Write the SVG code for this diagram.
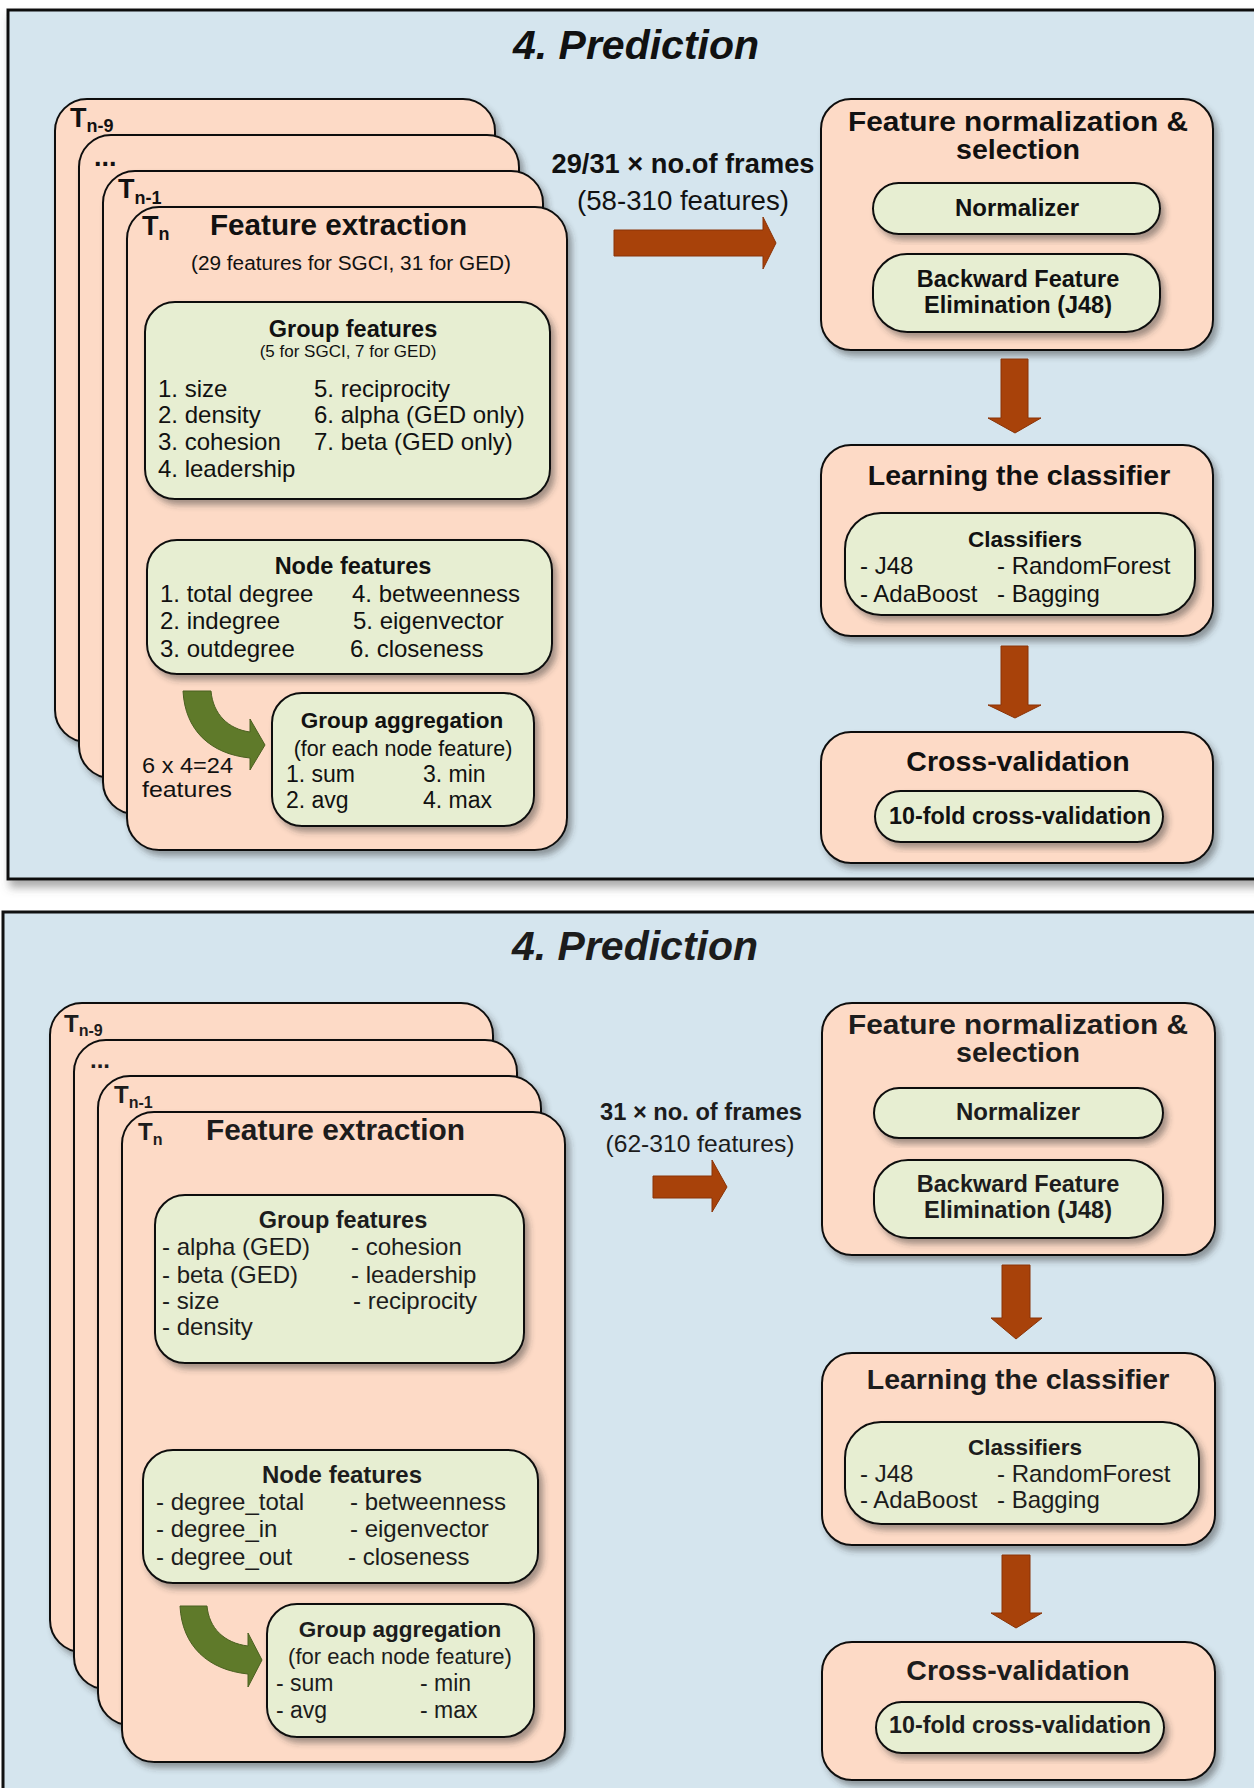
<svg xmlns="http://www.w3.org/2000/svg" width="1254" height="1788" viewBox="0 0 1254 1788">
<defs>
<filter id="sh" x="-10%" y="-10%" width="130%" height="130%">
<feDropShadow dx="4" dy="5" stdDeviation="3" flood-color="#333" flood-opacity="0.45"/>
</filter>
<filter id="psh" x="-5%" y="-5%" width="110%" height="110%">
<feDropShadow dx="3" dy="7" stdDeviation="4" flood-color="#555" flood-opacity="0.5"/>
</filter>
<style>
.panel{fill:#d5e5ee;stroke:#111;stroke-width:3}
.card{fill:#fddac6;stroke:#111;stroke-width:2}
.gbox{fill:#e7eed2;stroke:#111;stroke-width:2}
.arr{fill:#a8420a;stroke:#8a3306;stroke-width:1}
.garr{fill:#5f7a2a;stroke:#4a6020;stroke-width:1}
text{font-family:"Liberation Sans",Arial,sans-serif;fill:#111}
.b{font-weight:bold}
.c{text-anchor:middle}
.title{font-weight:bold;font-style:italic;font-size:41px;text-anchor:middle}
.it{font-size:24px}
.bt{fill:#1c1c1c}
</style>
</defs>
<rect width="1254" height="1788" fill="#ffffff"/>

<!-- ================= TOP PANEL ================= -->
<g id="panel-top">
<rect class="panel" x="8" y="10" width="1262" height="869" filter="url(#psh)"/>
<text class="title" x="636" y="59">4. Prediction</text>
</g>

<g id="card-tn9-top"><rect class="card" x="55" y="99" width="440" height="643" rx="32" filter="url(#sh)"/>
<text class="b" x="70" y="127" font-size="27">T<tspan font-size="18" dy="5">n-9</tspan></text></g>
<g id="card-dots-top"><rect class="card" x="79" y="135" width="440" height="643" rx="32" filter="url(#sh)"/>
<text class="b" x="94" y="166" font-size="27">...</text></g>
<g id="card-tn1-top"><rect class="card" x="103" y="171" width="440" height="643" rx="32" filter="url(#sh)"/>
<text class="b" x="118" y="198" font-size="27">T<tspan font-size="18" dy="6">n-1</tspan></text></g>
<g id="card-tn-top"><rect class="card" x="127" y="207" width="440" height="643" rx="32" filter="url(#sh)"/>
<text class="b" x="142" y="235" font-size="27">T<tspan font-size="18" dy="5">n</tspan></text>
<text class="b" x="210" y="235" font-size="29" textLength="257" lengthAdjust="spacingAndGlyphs">Feature extraction</text>
<text x="191" y="270" font-size="20" textLength="320" lengthAdjust="spacingAndGlyphs">(29 features for SGCI, 31 for GED)</text>
<text x="142" y="773" font-size="22" textLength="91" lengthAdjust="spacingAndGlyphs">6 x 4=24</text>
<text x="142" y="797" font-size="22" textLength="90" lengthAdjust="spacingAndGlyphs">features</text>
</g>

<g id="group-features-top">
<rect class="gbox" x="145" y="302" width="405" height="197" rx="30" filter="url(#sh)"/>
<text class="b c" x="353" y="337" font-size="23.5">Group features</text>
<text class="c" x="348" y="357" font-size="17">(5 for SGCI, 7 for GED)</text>
<text class="it" x="158" y="397">1. size</text>
<text class="it" x="158" y="423">2. density</text>
<text class="it" x="158" y="450">3. cohesion</text>
<text class="it" x="158" y="477">4. leadership</text>
<text class="it" x="314" y="397">5. reciprocity</text>
<text class="it" x="314" y="423">6. alpha (GED only)</text>
<text class="it" x="314" y="450">7. beta (GED only)</text>
</g>

<g id="node-features-top">
<rect class="gbox" x="147" y="540" width="405" height="134" rx="30" filter="url(#sh)"/>
<text class="b c" x="353" y="574" font-size="23.5">Node features</text>
<text class="it" x="160" y="602">1. total degree</text>
<text class="it" x="160" y="629">2. indegree</text>
<text class="it" x="160" y="657">3. outdegree</text>
<text class="it" x="352" y="602">4. betweenness</text>
<text class="it" x="353" y="629">5. eigenvector</text>
<text class="it" x="350" y="657">6. closeness</text>
</g>

<g id="group-aggregation-top">
<rect class="gbox" x="272" y="693" width="262" height="133" rx="30" filter="url(#sh)"/>
<text class="b c" x="402" y="728" font-size="22.5">Group aggregation</text>
<text class="c" x="403" y="756" font-size="21.5">(for each node feature)</text>
<text x="286" y="782" font-size="23">1. sum</text>
<text x="423" y="782" font-size="23">3. min</text>
<text x="286" y="808" font-size="23">2. avg</text>
<text x="423" y="808" font-size="23">4. max</text>
</g>

<g id="frames-label-top">
<text class="b c" x="683" y="173" font-size="27" textLength="263" lengthAdjust="spacingAndGlyphs">29/31 × no.of frames</text>
<text class="c" x="683" y="210" font-size="27" textLength="212" lengthAdjust="spacingAndGlyphs">(58-310 features)</text>
</g>

<g id="normalization-top">
<rect class="card" x="821" y="99" width="392" height="251" rx="30" filter="url(#sh)"/>
<text class="b c" x="1018" y="131" font-size="27" textLength="340" lengthAdjust="spacingAndGlyphs">Feature normalization &amp;</text>
<text class="b c" x="1018" y="159" font-size="27" textLength="124" lengthAdjust="spacingAndGlyphs">selection</text>
<rect class="gbox" x="873" y="183" width="287" height="51" rx="25.5" filter="url(#sh)"/>
<text class="b c" x="1017" y="216" font-size="24">Normalizer</text>
<rect class="gbox" x="873" y="254" width="287" height="78" rx="34" filter="url(#sh)"/>
<text class="b c" x="1018" y="287" font-size="23.5">Backward Feature</text>
<text class="b c" x="1018" y="313" font-size="23.5">Elimination (J48)</text>
</g>

<g id="learning-top">
<rect class="card" x="821" y="445" width="392" height="191" rx="30" filter="url(#sh)"/>
<text class="b c" x="1019" y="485" font-size="28.5">Learning the classifier</text>
<rect class="gbox" x="845" y="513" width="350" height="102" rx="36" filter="url(#sh)"/>
<text class="b c" x="1025" y="547" font-size="22.5">Classifiers</text>
<text class="it" x="860" y="574">- J48</text>
<text class="it" x="997" y="574">- RandomForest</text>
<text class="it" x="860" y="602">- AdaBoost</text>
<text class="it" x="997" y="602">- Bagging</text>
</g>

<g id="crossval-top">
<rect class="card" x="821" y="732" width="392" height="131" rx="30" filter="url(#sh)"/>
<text class="b c" x="1018" y="771" font-size="28.5">Cross-validation</text>
<rect class="gbox" x="875" y="791" width="288" height="51" rx="25.5" filter="url(#sh)"/>
<text class="b c" x="1020" y="824" font-size="23" textLength="262" lengthAdjust="spacingAndGlyphs">10-fold cross-validation</text>
</g>

<!-- ================= BOTTOM PANEL ================= -->
<g id="panel-bottom">
<rect class="panel" x="3" y="912" width="1270" height="900"/>
<text class="title bt" x="635" y="960">4. Prediction</text>
</g>

<g id="card-tn9-bottom"><rect class="card" x="50" y="1003" width="443" height="649" rx="32" filter="url(#sh)"/>
<text class="b bt" x="64" y="1032" font-size="24">T<tspan font-size="16" dy="4">n-9</tspan></text></g>
<g id="card-dots-bottom"><rect class="card" x="74" y="1040" width="443" height="649" rx="32" filter="url(#sh)"/>
<text class="b bt" x="90" y="1068" font-size="24">...</text></g>
<g id="card-tn1-bottom"><rect class="card" x="98" y="1076" width="443" height="649" rx="32" filter="url(#sh)"/>
<text class="b bt" x="114" y="1103" font-size="24">T<tspan font-size="16" dy="5">n-1</tspan></text></g>
<g id="card-tn-bottom"><rect class="card" x="122" y="1112" width="443" height="650" rx="32" filter="url(#sh)"/>
<text class="b bt" x="138" y="1140" font-size="24">T<tspan font-size="16" dy="5">n</tspan></text>
<text class="b bt" x="206" y="1140" font-size="29" textLength="259" lengthAdjust="spacingAndGlyphs">Feature extraction</text>
</g>

<g id="group-features-bottom">
<rect class="gbox" x="155" y="1195" width="369" height="168" rx="30" filter="url(#sh)"/>
<text class="b c bt" x="343" y="1228" font-size="23.5">Group features</text>
<text class="it bt" x="162" y="1255">- alpha (GED)</text>
<text class="it bt" x="162" y="1283">- beta (GED)</text>
<text class="it bt" x="162" y="1309">- size</text>
<text class="it bt" x="162" y="1335">- density</text>
<text class="it bt" x="351" y="1255">- cohesion</text>
<text class="it bt" x="351" y="1283">- leadership</text>
<text class="it bt" x="353" y="1309">- reciprocity</text>
</g>

<g id="node-features-bottom">
<rect class="gbox" x="143" y="1450" width="395" height="133" rx="30" filter="url(#sh)"/>
<text class="b c bt" x="342" y="1483" font-size="24">Node features</text>
<text class="it bt" x="156" y="1510">- degree_total</text>
<text class="it bt" x="156" y="1537">- degree_in</text>
<text class="it bt" x="156" y="1565">- degree_out</text>
<text class="it bt" x="350" y="1510">- betweenness</text>
<text class="it bt" x="350" y="1537">- eigenvector</text>
<text class="it bt" x="348" y="1565">- closeness</text>
</g>

<g id="group-aggregation-bottom">
<rect class="gbox" x="267" y="1604" width="267" height="133" rx="30" filter="url(#sh)"/>
<text class="b c bt" x="400" y="1637" font-size="22.5">Group aggregation</text>
<text class="c bt" x="400" y="1664" font-size="22">(for each node feature)</text>
<text class="bt" x="276" y="1691" font-size="23">- sum</text>
<text class="bt" x="420" y="1691" font-size="23">- min</text>
<text class="bt" x="276" y="1718" font-size="23">- avg</text>
<text class="bt" x="420" y="1718" font-size="23">- max</text>
</g>

<g id="frames-label-bottom">
<text class="b c bt" x="701" y="1120" font-size="23.5" textLength="202" lengthAdjust="spacingAndGlyphs">31 × no. of frames</text>
<text class="c bt" x="700" y="1152" font-size="24" textLength="189" lengthAdjust="spacingAndGlyphs">(62-310 features)</text>
</g>

<g id="normalization-bottom">
<rect class="card" x="822" y="1003" width="393" height="252" rx="30" filter="url(#sh)"/>
<text class="b c bt" x="1018" y="1034" font-size="27" textLength="340" lengthAdjust="spacingAndGlyphs">Feature normalization &amp;</text>
<text class="b c bt" x="1018" y="1062" font-size="27" textLength="124" lengthAdjust="spacingAndGlyphs">selection</text>
<rect class="gbox" x="874" y="1088" width="289" height="50" rx="25" filter="url(#sh)"/>
<text class="b c bt" x="1018" y="1120" font-size="24">Normalizer</text>
<rect class="gbox" x="874" y="1160" width="289" height="78" rx="34" filter="url(#sh)"/>
<text class="b c bt" x="1018" y="1192" font-size="23.5">Backward Feature</text>
<text class="b c bt" x="1018" y="1218" font-size="23.5">Elimination (J48)</text>
</g>

<g id="learning-bottom">
<rect class="card" x="822" y="1353" width="393" height="192" rx="30" filter="url(#sh)"/>
<text class="b c bt" x="1018" y="1389" font-size="28.5">Learning the classifier</text>
<rect class="gbox" x="845" y="1422" width="354" height="102" rx="36" filter="url(#sh)"/>
<text class="b c bt" x="1025" y="1455" font-size="22.5">Classifiers</text>
<text class="it bt" x="860" y="1482">- J48</text>
<text class="it bt" x="997" y="1482">- RandomForest</text>
<text class="it bt" x="860" y="1508">- AdaBoost</text>
<text class="it bt" x="997" y="1508">- Bagging</text>
</g>

<g id="crossval-bottom">
<rect class="card" x="822" y="1642" width="393" height="138" rx="30" filter="url(#sh)"/>
<text class="b c bt" x="1018" y="1680" font-size="28.5">Cross-validation</text>
<rect class="gbox" x="876" y="1702" width="288" height="51" rx="25.5" filter="url(#sh)"/>
<text class="b c bt" x="1020" y="1733" font-size="23" textLength="262" lengthAdjust="spacingAndGlyphs">10-fold cross-validation</text>
</g>

<!-- ================= CONNECTORS ================= -->
<g id="connectors">
<path class="garr" d="M183,691 L211,691 C213,714 228,729 250,732 L250,719 L265,745 L250,770 L250,758 C210,754 185,730 183,691 Z"/>
<polygon class="arr" points="614,230 763,230 763,217 776,243 763,269 763,256 614,256"/>
<polygon class="arr" points="1001,359 1028,359 1028,418 1041,418 1015,433 988,418 1001,418"/>
<polygon class="arr" points="1001,646 1028,646 1028,705 1041,705 1015,718 988,705 1001,705"/>

<path class="garr" d="M180,1606 L207,1606 C209,1628 224,1643 248,1646 L248,1633 L262,1660 L248,1687 L248,1674 C208,1670 182,1646 180,1606 Z"/>
<polygon class="arr" points="653,1176 712,1176 712,1160 727,1187 712,1212 712,1198 653,1198"/>
<polygon class="arr" points="1002,1265 1030,1265 1030,1318 1042,1318 1016,1339 991,1318 1002,1318"/>
<polygon class="arr" points="1002,1555 1030,1555 1030,1613 1042,1613 1016,1628 991,1613 1002,1613"/>
</g>
</svg>
